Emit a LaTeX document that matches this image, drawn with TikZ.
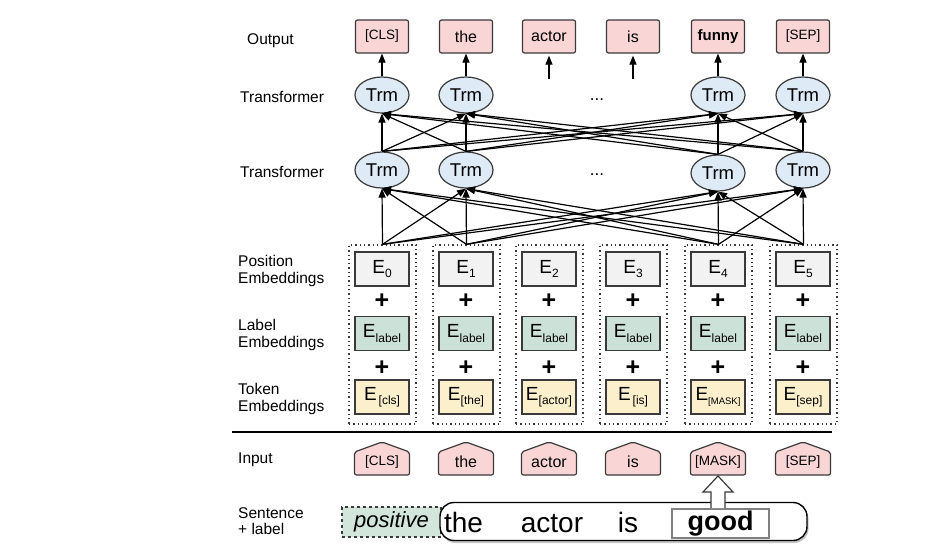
\documentclass[tikz,border=0pt]{standalone}
\usepackage{fontspec}
\setmainfont{Liberation Sans}
\usetikzlibrary{shapes.geometric,arrows.meta,calc,shadows}
\definecolor{pinkc}{HTML}{F9D6D5}
\definecolor{trmc}{HTML}{DEEAF6}
\definecolor{posc}{HTML}{F2F2F2}
\definecolor{labc}{HTML}{CCE2D8}
\definecolor{tokc}{HTML}{FCEFCB}
\definecolor{posfill}{HTML}{D3E6DC}
\definecolor{edge}{HTML}{3A3A3A}
\newcommand\fsz[1]{\fontsize{#1}{#1}\selectfont}
\newcommand\Esb[1]{E\raisebox{-4.5pt}{\fsz{12}#1}}
\begin{document}
\begin{tikzpicture}[x=1pt,y=-1pt,
  lbl/.style={font=\fsz{15.5}, align=left, anchor=west, inner sep=0pt},
  outbox/.style={draw=edge, fill=pinkc, rounded corners=2pt, minimum width=53pt, minimum height=33pt, inner sep=0pt, line width=1.2pt},
  trm/.style={ellipse, draw=edge, fill=trmc, minimum width=54pt, minimum height=36pt, inner sep=0pt, line width=1.2pt, font=\fsz{18.5}},
  colbox/.style={draw=edge, line width=1.3pt, dash pattern=on 1.3pt off 3pt, minimum width=67pt, minimum height=179pt, inner sep=0pt},
  ebox/.style={draw=edge, line width=1.2pt, minimum width=54pt, minimum height=34pt, inner sep=0pt, font=\fsz{19}},
  plus/.style={font=\fsz{25}\bfseries, inner sep=0pt},
  pent/.style={draw=edge, fill=pinkc, line width=1.2pt, rounded corners=2pt},
  arr/.style={-{Triangle[length=9pt,width=7pt]}, line width=1.2pt, black},
  word/.style={font=\fsz{28}, inner sep=0pt, anchor=base},
  dots/.style={font=\fsz{17}, inner sep=0pt}
]
\useasboundingbox[fill=white] (0,0) rectangle (931,552);

% left labels
\node[lbl] (lout) at (247,40.5) {Output};
\node[lbl] (ltr1) at (240,97) {Transformer};
\node[lbl] (ltr2) at (240,172) {Transformer};
\node[lbl, align=left] (lpos) at (238,271) {Position\\[1pt]Embeddings};
\node[lbl, align=left] (llab) at (238,335) {Label\\[1pt]Embeddings};
\node[lbl, align=left] (ltok) at (238,399) {Token\\[1pt]Embeddings};
\node[lbl] (linp) at (238,460) {Input};
\node[lbl, align=left] (lsen) at (238,521) {Sentence\\[1pt]+ label};

% output row
\node[outbox, font=\fsz{13.5}] (o0) at (382,36.5) {[CLS]};
\node[outbox, font=\fsz{16}] (o1) at (466,36.5) {the};
\node[outbox, font=\fsz{16}] (o2) at (549,36.5) {actor};
\node[outbox, font=\fsz{16}] (o3) at (633,36.5) {is};
\node[outbox, font=\fsz{15}\bfseries] (o4) at (718,36.5) {funny};
\node[outbox, font=\fsz{13.5}] (o5) at (803,36.5) {[SEP]};

% transformers
\node[trm] (t0) at (382,95) {Trm};
\node[trm] (t1) at (466,95) {Trm};
\node[trm] (t4) at (718,95) {Trm};
\node[trm] (t5) at (803,95) {Trm};
\node[dots] (d1) at (597,100) {...};
\node[trm] (b0) at (382,170) {Trm};
\node[trm] (b1) at (466,170) {Trm};
\node[trm] (b4) at (718,173) {Trm};
\node[trm] (b5) at (803,170) {Trm};
\node[dots] (d2) at (597,175) {...};

% embedding columns
\foreach \i/\x/\tok in {0/382/{\,[cls]},1/466/{[the]},2/549/{[actor]},3/633/{\,[is]},4/718/{\fsz{9.5}[MASK]},5/803/{[sep]}} {
  \node[colbox] (c\i) at (\x+0.5,334.5) {};
  \node[ebox, fill=posc] (p\i) at (\x,269) {\Esb{\i}};
  \node[plus] (pa\i) at (\x,301) {+};
  \node[ebox, fill=labc] (l\i) at (\x,333.5) {\Esb{label}};
  \node[plus] (pb\i) at (\x,368) {+};
  \node[ebox, fill=tokc] (k\i) at (\x,397) {\Esb{\tok}};
}

% arrows embeddings -> lower transformers, lower -> upper transformers
\foreach \s in {0,1,4,5} {
  \foreach \d in {0,1,4,5} {
    \draw[arr] (c\s.north) -- (b\d.south);
    \draw[arr] (b\s.north) -- (t\d.south);
  }
}
% arrows to outputs
\foreach \i in {0,1,4,5} {
  \draw[arr] (t\i.north) -- (o\i.south);
}
\coordinate (a2) at (549,79);
\coordinate (a3) at (633,79);
\draw[arr] (a2) -- ([yshift=-2pt]o2.south);
\draw[arr] (a3) -- ([yshift=-2pt]o3.south);

% separator
\draw[line width=2.5pt] (232,432) -- (832,432);

% input row
\foreach \i/\x/\t in {0/382/{\fsz{13.5}[CLS]},1/466/{the},2/549/{actor},3/633/{is},4/718/{\fsz{13.5}[MASK]},5/803/{\fsz{13.5}[SEP]}} {
  \draw[pent] (\x-27.5,475) -- (\x-27.5,452) -- (\x,442) -- (\x+27.5,452) -- (\x+27.5,475) -- cycle;
  \node[font=\fsz{16}, inner sep=0pt] (in\i) at (\x,462) {\t};
}

% sentence + label
\node[draw=edge, fill=posfill, line width=1.2pt, dashed, minimum width=99pt, minimum height=30pt, inner sep=0pt, font=\fsz{22}\itshape] (pos) at (391.5,522) {positive};
\node[draw=black, fill=white, line width=1.4pt, rounded corners=14pt, minimum width=367pt, minimum height=38pt, inner sep=0pt,
      drop shadow={shadow xshift=1.5pt, shadow yshift=-2.5pt, fill=black!45}] (sent) at (623.5,521.5) {};
\node[word] (w1) at (463.5,532) {the};
\node[word] (w2) at (552,532) {actor};
\node[word] (w3) at (628,532) {is};
\node[draw=black!50, fill=white, line width=2.5pt, minimum width=97pt, minimum height=29pt, inner sep=0pt, font=\fsz{27}\bfseries] (good) at (720.5,523.5) {good};

% hollow block arrow good -> [MASK]
\filldraw[fill=white, draw=edge, line width=1.2pt, line join=miter]
  (711,508) -- (711,492) -- (703,492) -- (718,476) -- (733,492) -- (725,492) -- (725,508);
\end{tikzpicture}
\end{document}
